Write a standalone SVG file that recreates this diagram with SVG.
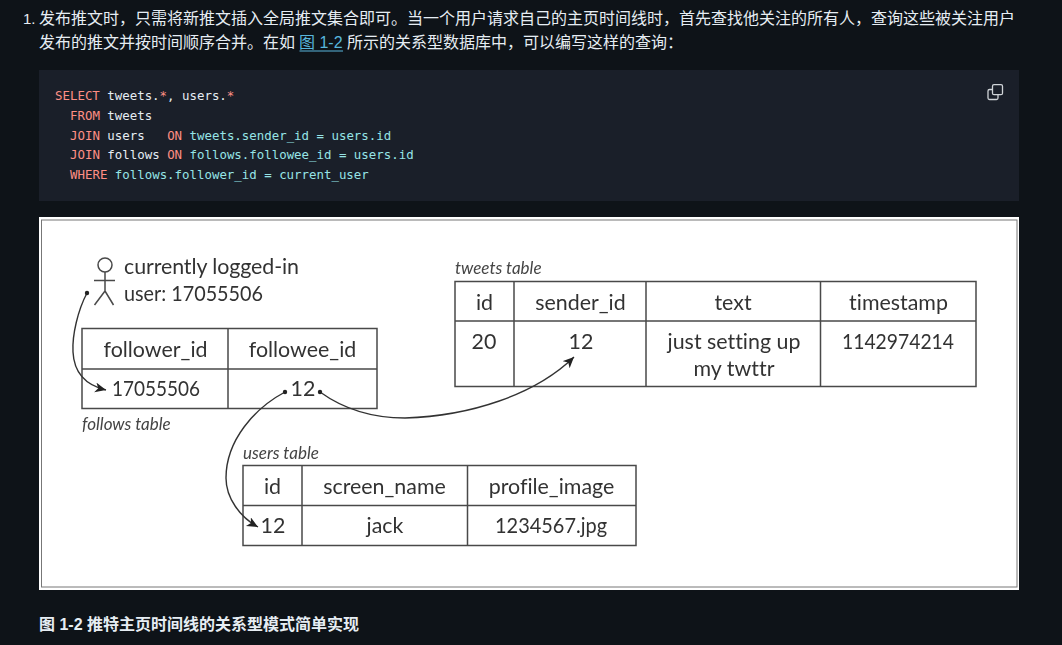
<svg xmlns="http://www.w3.org/2000/svg" width="1062" height="645" viewBox="0 0 1062 645">
<style>
.cn{font-family:"Liberation Sans","Noto Sans CJK SC",sans-serif;font-size:16px;fill:#e6edf3}
.code{font-family:"DejaVu Sans Mono","Liberation Mono",monospace;font-size:12.42px;white-space:pre}
.k{fill:#ff8f85}.w{fill:#e6edf3}.c{fill:#96e4e6}
.t{font-family:Lato,"Open Sans",sans-serif;font-size:21.4px;fill:#333;text-anchor:middle;font-variant-ligatures:none}
.l{text-anchor:start}
.i{font-family:Lato,"Open Sans",sans-serif;font-size:17px;font-style:italic;fill:#444;font-variant-ligatures:none}
.g{fill:none;stroke:#4a4a4a;stroke-width:1.5}
.a{fill:none;stroke:#333;stroke-width:1.4}
</style>
<defs>
<marker id="arrow" markerUnits="userSpaceOnUse" markerWidth="14" markerHeight="12" refX="11" refY="5" orient="auto"><path d="M0,0 L11,5 L0,10 L3,5 Z" fill="#222"/></marker>
<marker id="dot" markerUnits="userSpaceOnUse" markerWidth="6" markerHeight="6" refX="3" refY="3"><circle cx="3" cy="3" r="2.2" fill="#222"/></marker>
<filter id="soft" filterUnits="userSpaceOnUse" x="39" y="217" width="980" height="373"><feGaussianBlur stdDeviation="0.4"/></filter>
</defs>
<rect width="1062" height="645" fill="#0e1318"/>
<g id="paragraph">
<text class="cn" x="23" y="24" style="font-size:15px">1.</text>
<text class="cn" x="39" y="24">发布推文时，只需将新推文插入全局推文集合即可。当一个用户请求自己的主页时间线时，首先查找他关注的所有人，查询这些被关注用户</text>
<text class="cn" x="39" y="48">发布的推文并按时间顺序合并。在如</text>
<text class="cn" x="299" y="48" style="fill:#58b6dc">图 1-2</text>
<line x1="299.500" y1="51" x2="343" y2="51" stroke="#58b6dc" stroke-width="1"/>
<text class="cn" x="347" y="48">所示的关系型数据库中，可以编写这样的查询：</text>
</g>
<g id="code-block">
<rect x="39" y="70" width="980" height="131" fill="#1a1f29"/>
<text class="code" y="100" xml:space="preserve"><tspan class="k" x="55">SELECT</tspan><tspan class="w"> tweets.</tspan><tspan class="k">*</tspan><tspan class="w">, users.</tspan><tspan class="k">*</tspan></text>
<text class="code" y="120" xml:space="preserve"><tspan class="k" x="70">FROM</tspan><tspan class="w"> tweets</tspan></text>
<text class="code" y="140" xml:space="preserve"><tspan class="k" x="70">JOIN</tspan><tspan class="w"> users   </tspan><tspan class="k">ON</tspan><tspan class="c"> tweets.sender_id = users.id</tspan></text>
<text class="code" y="159" xml:space="preserve"><tspan class="k" x="70">JOIN</tspan><tspan class="w"> follows </tspan><tspan class="k">ON</tspan><tspan class="c"> follows.followee_id = users.id</tspan></text>
<text class="code" y="179" xml:space="preserve"><tspan class="k" x="70">WHERE</tspan><tspan class="c"> follows.follower_id = current_user</tspan></text>
<g id="copy-icon" fill="none" stroke="#d0d4d8" stroke-width="1.3"><rect x="992.500" y="84.700" width="10" height="10" rx="1.500"/><path d="M992.500,89.500 H989.500 Q988,89.500 988,91 V98 Q988,99.500 989.500,99.500 H996.500 Q998,99.500 998,98 V95"/></g>
</g>
<g id="figure">
<rect x="39" y="217" width="980" height="373" fill="#fff"/>
<rect x="41.500" y="220" width="975.500" height="367" fill="none" stroke="#777" stroke-width="1"/>
<g filter="url(#soft)">
<g id="user">
<circle class="g" cx="105" cy="265" r="7" stroke="#333"/>
<path class="g" d="M105,272 V291 M94,280.500 H115 M105,291 L94.500,305 M105,291 L113.500,305"/>
<text class="t l" x="124" y="274" textLength="175">currently logged-in</text>
<text class="t l" x="124" y="301" textLength="139" lengthAdjust="spacingAndGlyphs">user: 17055506</text>
</g>
<g id="follows-table">
<path class="g" d="M82,328.500 H377 V408.500 H82 Z M82,369 H377 M228,328.500 V408.500"/>
<text class="t" x="155.500" y="357">follower_id</text>
<text class="t" x="302.500" y="357">followee_id</text>
<text class="t" x="156" y="396" textLength="88" lengthAdjust="spacingAndGlyphs">17055506</text>
<text class="t" x="303" y="396">12</text>
<text class="i" x="82" y="430">follows table</text>
</g>
<g id="tweets-table">
<path class="g" d="M455,281.500 H976 V386.500 H455 Z M455,321 H976 M514,281.500 V386.500 M646,281.500 V386.500 M820.500,281.500 V386.500"/>
<text class="t" x="484.500" y="310">id</text>
<text class="t" x="580.500" y="310">sender_id</text>
<text class="t" x="733" y="310">text</text>
<text class="t" x="898.500" y="310">timestamp</text>
<text class="t" x="484" y="349">20</text>
<text class="t" x="581" y="349">12</text>
<text class="t" x="734" y="349">just setting up</text>
<text class="t" x="734" y="376">my twttr</text>
<text class="t" x="898" y="349" textLength="112" lengthAdjust="spacingAndGlyphs">1142974214</text>
<text class="i" x="455" y="274">tweets table</text>
</g>
<g id="users-table">
<path class="g" d="M243,465.500 H636 V545.500 H243 Z M243,505.500 H636 M302,465.500 V545.500 M467.500,465.500 V545.500"/>
<text class="t" x="272.500" y="494">id</text>
<text class="t" x="384.500" y="494">screen_name</text>
<text class="t" x="551.500" y="494">profile_image</text>
<text class="t" x="273" y="533">12</text>
<text class="t" x="385" y="533">jack</text>
<text class="t" x="551" y="533" textLength="112" lengthAdjust="spacingAndGlyphs">1234567.jpg</text>
<text class="i" x="243" y="459">users table</text>
</g>
<g id="connectors">
<path class="a" marker-start="url(#dot)" marker-end="url(#arrow)" d="M87,293 C78,310 72,335 73,352 C74,372 85,385 106,390"/>
<path class="a" marker-start="url(#dot)" marker-end="url(#arrow)" d="M320,392 C345,410 375,418 405,418 C470,416 535,395 574,357"/>
<path class="a" marker-start="url(#dot)" marker-end="url(#arrow)" d="M285,392 C255,408 226,440 226,478 C226,498 240,517 258,527"/>
</g>
</g>
</g>
<text id="caption" class="cn" x="39" y="630" style="font-weight:700">图 1-2 推特主页时间线的关系型模式简单实现</text>
</svg>
